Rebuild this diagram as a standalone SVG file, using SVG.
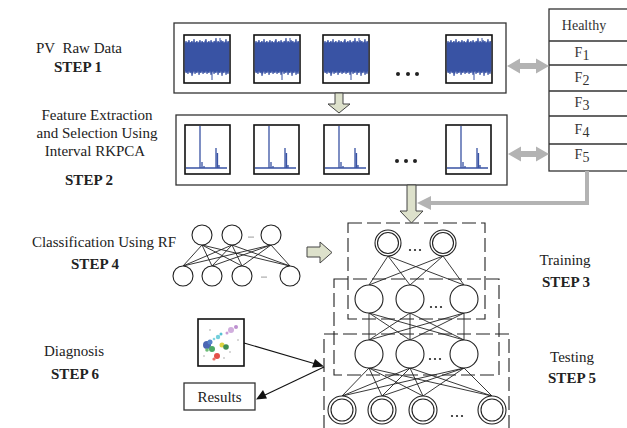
<svg xmlns="http://www.w3.org/2000/svg" xmlns:xlink="http://www.w3.org/1999/xlink" width="627" height="428" viewBox="0 0 627 428">
<style>
.lbl{font-family:"Liberation Serif","Times New Roman",serif;font-size:15px;fill:#222;text-anchor:middle}
.stp{font-family:"Liberation Serif","Times New Roman",serif;font-size:15px;font-weight:bold;fill:#222;text-anchor:middle}
.tb{font-family:"Liberation Serif","Times New Roman",serif;font-size:14px;fill:#333;text-anchor:middle}
.box{fill:#fff;stroke:#333;stroke-width:1.3}
.plot{fill:#fff;stroke:#111;stroke-width:1.6}
.olive{fill:#dde1cb;stroke:#444;stroke-width:1}
.gray{fill:#b3b3b3;stroke:none}
.dash{fill:none;stroke:#222;stroke-width:1.1;stroke-dasharray:14 5}
.n{fill:#fff;stroke:#222;stroke-width:1.1}
.w{stroke:#222;stroke-width:0.9;fill:none}
.dot{fill:#222}
</style>
<defs>
<symbol id="raw" overflow="visible">
<rect class="plot" x="0" y="0" width="46" height="48"/>
<path fill="#3953a4" stroke="#3953a4" stroke-width="0.6" d="M1,8 L2,6 3,8 4,7 5,5 6,8 7,7 8,6 9,8 10,4 11,8 12,7 13,6 14,8 15,7 16,5 17,8 18,6 19,7 20,8 21,6 22,4 23,8 24,7 25,6 26,8 27,5 28,7 29,8 30,6 31,7 32,3 33,8 34,6 35,7 36,8 37,5 38,7 39,6 40,8 41,7 42,4 43,8 44,6 45,7 L45,36 44,39 43,37 42,40 41,36 40,38 39,37 38,41 37,36 36,38 35,37 34,40 33,36 32,38 31,37 30,39 29,36 28,37 27,40 26,36 25,38 24,37 23,39 22,36 21,38 20,37 19,39 18,36 17,38 16,37 15,40 14,36 13,38 12,37 11,39 10,36 9,38 8,41 7,37 6,38 5,36 4,39 3,37 2,38 1,36 Z"/>
<path stroke="#3953a4" stroke-width="1" d="M28,36 V45 M36,8 V3"/>
</symbol>
<symbol id="spec" overflow="visible">
<rect class="plot" x="0" y="0" width="45" height="49"/>
<path stroke="#3953a4" stroke-width="1.3" fill="none" d="M1,43 H42 M15,43 V1 M17,43 V37 M19,43 V41 M31,43 V23 M32.5,43 V28 M34,43 V40"/>
</symbol>
</defs>
<rect width="627" height="428" fill="#fff"/>

<g id="labels">
<text class="lbl" x="79" y="53" xml:space="preserve">PV  Raw Data</text>
<text class="stp" x="78" y="72">STEP 1</text>
<text class="lbl" x="97" y="120">Feature Extraction</text>
<text class="lbl" x="97" y="138">and Selection Using</text>
<text class="lbl" x="95" y="156">Interval RKPCA</text>
<text class="stp" x="89" y="185">STEP 2</text>
<text class="lbl" x="104" y="247">Classification Using RF</text>
<text class="stp" x="95" y="269">STEP 4</text>
<text class="lbl" x="74" y="356">Diagnosis</text>
<text class="stp" x="75" y="379">STEP 6</text>
<text class="lbl" x="565" y="265">Training</text>
<text class="stp" x="566" y="287">STEP 3</text>
<text class="lbl" x="572" y="362">Testing</text>
<text class="stp" x="572" y="383">STEP 5</text>
</g>

<g id="step1-raw-data">
<rect class="box" x="174" y="23" width="332" height="70"/>
<use xlink:href="#raw" x="184" y="35"/>
<use xlink:href="#raw" x="254" y="35"/>
<use xlink:href="#raw" x="323" y="35"/>
<use xlink:href="#raw" x="446" y="35"/>
<circle class="dot" cx="398" cy="74" r="2"/>
<circle class="dot" cx="408" cy="74" r="2"/>
<circle class="dot" cx="417" cy="74" r="2"/>
</g>

<g id="step2-features">
<rect class="box" x="176" y="115" width="331" height="70"/>
<use xlink:href="#spec" x="185" y="125"/>
<use xlink:href="#spec" x="254" y="125"/>
<use xlink:href="#spec" x="324" y="125"/>
<use xlink:href="#spec" x="446" y="125"/>
<circle class="dot" cx="397" cy="161" r="2"/>
<circle class="dot" cx="406" cy="161" r="2"/>
<circle class="dot" cx="415" cy="161" r="2"/>
</g>

<g id="fault-table">
<rect class="box" x="549" y="9" width="80" height="162"/>
<path stroke="#333" stroke-width="1.3" d="M549,41 H627 M549,65 H627 M549,91 H627 M549,116 H627 M549,144 H627"/>
<text class="tb" x="584" y="30">Healthy</text>
<text class="tb" x="582" y="57">F<tspan dy="3">1</tspan></text>
<text class="tb" x="582" y="82">F<tspan dy="3">2</tspan></text>
<text class="tb" x="582" y="107">F<tspan dy="3">3</tspan></text>
<text class="tb" x="582" y="134">F<tspan dy="3">4</tspan></text>
<text class="tb" x="582" y="159">F<tspan dy="3">5</tspan></text>
</g>

<g id="step4-rf">
<g class="w">
<path d="M202,245 L183,266 M202,245 L212,266 M202,245 L242,266 M202,245 L290,266 M232,245 L183,266 M232,245 L212,266 M232,245 L242,266 M232,245 L290,266 M271,245 L183,266 M271,245 L212,266 M271,245 L242,266 M271,245 L290,266"/>
</g>
<circle class="n" cx="202" cy="235" r="10"/>
<circle class="n" cx="232" cy="235" r="10"/>
<circle class="n" cx="271" cy="235" r="10"/>
<circle class="n" cx="183" cy="276" r="10"/>
<circle class="n" cx="212" cy="276" r="10"/>
<circle class="n" cx="242" cy="276" r="10"/>
<circle class="n" cx="290" cy="276" r="10"/>
<circle class="dot" cx="249" cy="237" r="0.6"/><circle class="dot" cx="251" cy="237" r="0.6"/><circle class="dot" cx="253" cy="237" r="0.6"/>
<circle class="dot" cx="262" cy="277" r="0.6"/><circle class="dot" cx="264" cy="277" r="0.6"/><circle class="dot" cx="266" cy="277" r="0.6"/>
</g>

<g id="network">
<rect class="dash" x="348" y="223" width="137" height="96"/>
<rect class="dash" x="334" y="279" width="165" height="96"/>
<rect class="dash" x="324" y="334" width="185" height="100"/>
<g class="w">
<path d="M388,256 L369,285 M388,256 L410,285 M388,256 L464,285 M443,256 L369,285 M443,256 L410,285 M443,256 L464,285"/>
<path d="M369,313 L369,340 M369,313 L410,340 M369,313 L464,340 M410,313 L369,340 M410,313 L410,340 M410,313 L464,340 M464,313 L369,340 M464,313 L410,340 M464,313 L464,340"/>
<path d="M369,368 L342,396 M369,368 L382,396 M369,368 L423,396 M369,368 L492,396 M410,368 L342,396 M410,368 L382,396 M410,368 L423,396 M410,368 L492,396 M464,368 L342,396 M464,368 L382,396 M464,368 L423,396 M464,368 L492,396"/>
</g>
<circle class="n" cx="388" cy="243" r="13"/><circle class="n" cx="388" cy="243" r="10.5"/>
<circle class="n" cx="443" cy="243" r="13"/><circle class="n" cx="443" cy="243" r="10.5"/>
<circle class="n" cx="369" cy="299" r="14"/>
<circle class="n" cx="410" cy="299" r="14"/>
<circle class="n" cx="464" cy="299" r="14"/>
<circle class="n" cx="369" cy="354" r="14"/>
<circle class="n" cx="410" cy="354" r="14"/>
<circle class="n" cx="464" cy="354" r="14"/>
<circle class="n" cx="342" cy="410" r="14"/><circle class="n" cx="342" cy="410" r="11"/>
<circle class="n" cx="382" cy="410" r="14"/><circle class="n" cx="382" cy="410" r="11"/>
<circle class="n" cx="423" cy="410" r="14"/><circle class="n" cx="423" cy="410" r="11"/>
<circle class="n" cx="492" cy="410" r="14"/><circle class="n" cx="492" cy="410" r="11"/>
<circle class="dot" cx="410" cy="250" r="1.1"/><circle class="dot" cx="415" cy="250" r="1.1"/><circle class="dot" cx="420" cy="250" r="1.1"/>
<circle class="dot" cx="431" cy="307" r="1.1"/><circle class="dot" cx="436" cy="307" r="1.1"/><circle class="dot" cx="441" cy="307" r="1.1"/>
<circle class="dot" cx="430" cy="359" r="1.1"/><circle class="dot" cx="435" cy="359" r="1.1"/><circle class="dot" cx="440" cy="359" r="1.1"/>
<circle class="dot" cx="452" cy="416" r="1.1"/><circle class="dot" cx="457" cy="416" r="1.1"/><circle class="dot" cx="462" cy="416" r="1.1"/>
</g>

<g id="step6-scatter">
<rect class="plot" x="198" y="319" width="46" height="47"/>
<g opacity="0.85">
<circle cx="231" cy="330" r="3" fill="#c9a0d8"/><circle cx="236" cy="327" r="2" fill="#b27cc8"/><circle cx="227" cy="333" r="1.5" fill="#c08bd0"/>
<circle cx="218" cy="337" r="2.2" fill="#5cc7d6"/><circle cx="221" cy="334" r="1.5" fill="#38b7c9"/><circle cx="214" cy="339" r="1.3" fill="#6fd0dc"/>
<circle cx="207" cy="345" r="4" fill="#2c4ca8"/><circle cx="210" cy="342" r="2.5" fill="#3a6ec0"/>
<circle cx="212" cy="349" r="3" fill="#2d9a4a"/><circle cx="207" cy="350" r="1.8" fill="#54b060"/>
<circle cx="222" cy="345" r="2.5" fill="#d8cc20"/>
<circle cx="226" cy="347" r="2.8" fill="#1e7a34"/>
<circle cx="217" cy="356" r="3" fill="#e0322a"/><circle cx="214" cy="359" r="1.6" fill="#e85a50"/>
<circle cx="204" cy="356" r="0.8" fill="#999"/><circle cx="224" cy="358" r="0.8" fill="#999"/><circle cx="238" cy="340" r="0.8" fill="#999"/><circle cx="210" cy="330" r="0.8" fill="#999"/><circle cx="230" cy="352" r="0.8" fill="#999"/>
</g>
</g>

<g id="results">
<rect class="box" x="184" y="383" width="71" height="27"/>
<text class="lbl" x="219.5" y="402">Results</text>
</g>

<g id="connectors">
<polygon class="olive" points="335,93 343,93 343,104 350,104 339,113 328,104 335,104"/>
<polygon class="olive" points="407,185 416,185 416,211 423,211 411.5,223 400,211 407,211"/>
<polygon class="olive" points="307,247 320,247 320,242 332,252.5 320,263 320,257 307,257"/>
<polygon class="gray" points="507,66 520,58.5 520,63 536,63 536,58.5 549,66 536,73.5 536,69 520,69 520,73.5"/>
<polygon class="gray" points="508,154 521,146.5 521,151 536,151 536,146.5 549,154 536,161.5 536,157 521,157 521,161.5"/>
<polyline points="587,171 587,203 430,203" fill="none" stroke="#b3b3b3" stroke-width="4"/>
<polygon class="gray" points="431,196 431,210 417,203"/>
<line x1="244" y1="343" x2="314" y2="363.5" stroke="#111" stroke-width="1.1"/>
<polygon points="324,366.5 312,367.5 315,359" fill="#111"/>
<line x1="324" y1="367" x2="265" y2="395" stroke="#111" stroke-width="1.1"/>
<polygon points="256,399.5 263,390 267,398.5" fill="#111"/>
</g>
</svg>
